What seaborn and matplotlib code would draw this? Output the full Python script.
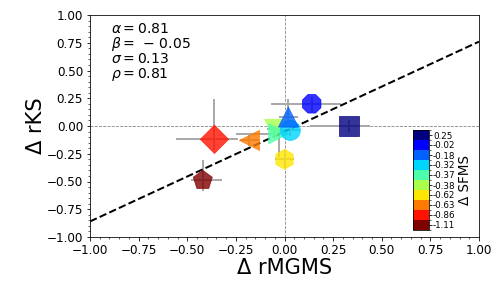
import numpy as np
import pandas as pd
import matplotlib
matplotlib.use("Agg")
import matplotlib.pyplot as plt
import seaborn as sns
from matplotlib.colors import ListedColormap, BoundaryNorm
from matplotlib.ticker import AutoMinorLocator

# ---- data ----
sfms_labels = ["0.25", "-0.02", "-0.18", "-0.32", "-0.37", "-0.38", "-0.62", "-0.63", "-0.86", "-1.11"]
d_rmgms = [0.33, 0.14, 0.02, 0.03, -0.03, -0.05, 0.00, -0.18, -0.36, -0.42]
d_rks = [0.00, 0.20, 0.08, -0.04, -0.07, -0.03, -0.30, -0.13, -0.12, -0.49]
xerr_lo = [0.20, 0.21, 0.05, 0.05, 0.22, 0.04, 0.05, 0.05, 0.20, 0.06]
xerr_hi = [0.11, 0.15, 0.05, 0.05, 0.05, 0.04, 0.05, 0.05, 0.12, 0.10]
yerr_lo = [0.05, 0.07, 0.05, 0.05, 0.21, 0.04, 0.08, 0.05, 0.10, 0.10]
yerr_hi = [0.05, 0.06, 0.16, 0.05, 0.05, 0.04, 0.08, 0.05, 0.36, 0.18]
marker_list = ["s", "8", "^", "o", ">", "v", "h", "<", "D", "p"]
fit_alpha, fit_beta, fit_sigma, fit_rho = 0.81, -0.05, 0.13, 0.81
fit_x = [-1.0, 1.0]

jet = plt.get_cmap("jet")
colors = [jet(v) for v in np.linspace(0, 1, len(sfms_labels))]

df = pd.DataFrame({"x": d_rmgms, "y": d_rks, "sfms": sfms_labels})
df = df.iloc[::-1].reset_index(drop=True)  # draw lowest SFMS first
palette = dict(zip(sfms_labels, colors))
markers = dict(zip(sfms_labels, marker_list))

fig = plt.figure(figsize=(7, 4), dpi=72)
ax = fig.add_axes([90/504, 1-237/288, 389/504, 222/288])

ax.axhline(0, color="gray", ls="--", lw=0.8, zorder=0)
ax.axvline(0, color="gray", ls="--", lw=0.8, zorder=0)

ax.errorbar(d_rmgms, d_rks,
            xerr=[xerr_lo, xerr_hi], yerr=[yerr_lo, yerr_hi],
            fmt="none", ecolor="#aaaaaa", elinewidth=2, capsize=0, zorder=1)

fit_y = [fit_alpha * v + fit_beta for v in fit_x]
sns.lineplot(x=fit_x, y=fit_y, ax=ax, color="black", lw=2, ls="--", zorder=2)

sns.scatterplot(data=df, x="x", y="y", hue="sfms", style="sfms",
                palette=palette, markers=markers, hue_order=sfms_labels,
                style_order=sfms_labels, s=400, alpha=0.8, linewidth=0.8,
                legend=False, ax=ax, zorder=3)
for coll in ax.collections:
    fc = coll.get_facecolors()
    if len(fc):
        coll.set_edgecolors(fc)

ax.set_xlim(-1, 1)
ax.set_ylim(-1, 1)
ax.set_xticks(np.arange(-1, 1.01, 0.25))
ax.set_yticks(np.arange(-1, 1.01, 0.25))
ax.xaxis.set_minor_locator(AutoMinorLocator(5))
ax.yaxis.set_minor_locator(AutoMinorLocator(5))
ax.tick_params(labelsize=12)
ax.set_xlabel("Δ rMGMS", fontsize=21, labelpad=1)
ax.set_ylabel("Δ rKS", fontsize=21, labelpad=1)

beta_str = r"$\beta =\,-\,%.2f$" % abs(fit_beta) if fit_beta < 0 else r"$\beta = %.2f$" % fit_beta
txt = (r"$\alpha = %.2f$" % fit_alpha + "\n" + beta_str + "\n"
       + r"$\sigma = %.2f$" % fit_sigma + "\n" + r"$\rho = %.2f$" % fit_rho)
ax.text(0.055, 0.97, txt, transform=ax.transAxes, va="top", ha="left",
        fontsize=14, linespacing=0.95)

# discrete colorbar
cax = fig.add_axes([413/504, 1-230/288, 16/504, 100/288])
cmap = ListedColormap(colors[::-1])
norm = BoundaryNorm(np.arange(len(sfms_labels) + 1), cmap.N)
sm = matplotlib.cm.ScalarMappable(norm=norm, cmap=cmap)
cb = fig.colorbar(sm, cax=cax, ticks=np.arange(len(sfms_labels)) + 0.5)
cb.ax.set_yticklabels(sfms_labels[::-1])
cb.ax.tick_params(labelsize=8.8, length=3, pad=1)
cb.set_label("Δ SFMS", fontsize=13.5, labelpad=2)

fig.savefig("out.png", dpi=72)
